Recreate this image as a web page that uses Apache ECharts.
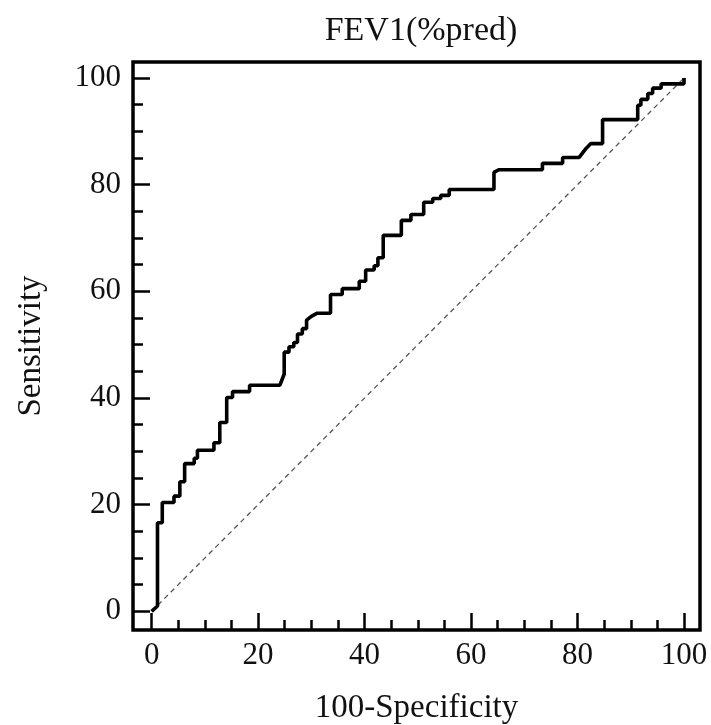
<!DOCTYPE html>
<html>
<head>
<meta charset="utf-8">
<script src="https://cdn.jsdelivr.net/npm/echarts@6/dist/echarts.min.js"></script>
<style>html,body{margin:0;padding:0;background:#fff;}#chart{width:711px;height:725px;}</style>
</head>
<body>
<div id="chart"></div>
<script>
const titleText = "FEV1(%pred)";
const xAxisName = "100-Specificity";
const yAxisName = "Sensitivity";
const tickValues = [0, 20, 40, 60, 80, 100];
const minorTickValues = [5, 10, 15, 25, 30, 35, 45, 50, 55, 65, 70, 75, 85, 90, 95];

// ROC curve vertices (100-Specificity, Sensitivity)
const rocX = [0, 1.1, 1.1, 2.0, 2.0, 4.2, 4.2, 5.3, 5.3, 6.2, 6.2, 8.0, 8.0, 8.6, 8.6, 11.7, 11.7, 12.8, 12.8, 14.1, 14.1, 15.2, 15.2, 18.4, 18.4, 24.1, 24.9, 24.9, 25.8, 25.8, 26.7, 26.7, 27.4, 27.4, 28.3, 28.3, 29.1, 29.1, 30.0, 31.1, 33.6, 33.6, 35.8, 35.8, 39.0, 39.0, 40.2, 40.2, 41.8, 41.8, 42.5, 42.5, 43.5, 43.5, 46.9, 46.9, 48.7, 48.7, 51.1, 51.1, 52.8, 52.8, 54.3, 54.3, 55.9, 55.9, 64.3, 64.3, 65.2, 73.4, 73.4, 77.2, 77.2, 80.3, 81.6, 82.5, 84.7, 84.7, 91.3, 91.3, 91.9, 91.9, 93.2, 93.2, 94.1, 94.1, 95.7, 95.7, 100, 100];
const rocY = [0, 1.0, 16.6, 16.6, 20.4, 20.4, 21.6, 21.6, 24.3, 24.3, 27.7, 27.7, 28.7, 28.7, 30.2, 30.2, 31.6, 31.6, 35.4, 35.4, 40.1, 40.1, 41.2, 41.2, 42.4, 42.4, 44.5, 48.6, 48.6, 49.6, 49.6, 50.4, 50.4, 52.0, 52.0, 53.0, 53.0, 54.6, 55.3, 55.9, 55.9, 59.4, 59.4, 60.5, 60.5, 61.9, 61.9, 64.0, 64.0, 64.8, 64.8, 66.3, 66.3, 70.5, 70.5, 73.3, 73.3, 74.4, 74.4, 76.7, 76.7, 77.4, 77.4, 78.0, 78.0, 79.1, 79.1, 82.3, 82.8, 82.8, 84.0, 84.0, 85.1, 85.1, 86.8, 87.7, 87.7, 92.2, 92.2, 94.9, 94.9, 96.0, 96.0, 97.1, 97.1, 98.1, 98.1, 98.9, 98.9, 100];

const diagX = [0, 100];
const diagY = [0, 100];

const rocData = rocX.map((x, i) => [x, rocY[i]]);
const diagData = diagX.map((x, i) => [x, diagY[i]]);

const font = "'Liberation Serif', 'DejaVu Serif', serif";
const textColor = '#111';
const tickFs = 31;
const nameFs = 33;

function axisBase(isMajor, labelMargin, opts) {
  return Object.assign({
    type: 'value', min: -3.5, max: 103,
    axisLine: { show: false, onZero: false },
    axisTick: { show: true, inside: true, length: isMajor ? 17 : 10,
      lineStyle: { color: '#000', width: 2.5 },
      customValues: isMajor ? tickValues : minorTickValues },
    axisLabel: { show: isMajor, fontFamily: font, fontSize: tickFs, color: textColor,
      margin: labelMargin, customValues: tickValues },
    splitLine: { show: false }
  }, opts);
}

const chart = echarts.init(document.getElementById('chart'));
chart.setOption({
  animation: false,
  backgroundColor: '#fff',
  title: {
    text: titleText, left: 416, top: 9, textAlign: 'center',
    textStyle: { fontFamily: font, fontSize: 34, fontWeight: 'normal', color: textColor }
  },
  grid: {
    left: 133, right: 11, top: 62, bottom: 95,
    containLabel: false, outerBoundsMode: 'none',
    show: true, borderColor: '#000', borderWidth: 3.5, backgroundColor: 'transparent'
  },
  xAxis: [
    axisBase(true, 10, {
      position: 'bottom',
      name: xAxisName, nameLocation: 'middle', nameGap: 62,
      nameTextStyle: { fontFamily: font, fontSize: nameFs, color: textColor }
    }),
    axisBase(false, 10, { position: 'bottom' })
  ],
  yAxis: [
    axisBase(true, 12, {
      position: 'left',
      name: yAxisName, nameLocation: 'middle', nameGap: 85,
      nameTextStyle: { fontFamily: font, fontSize: nameFs, color: textColor }
    }),
    axisBase(false, 12, { position: 'left' })
  ],
  series: [
    {
      type: 'line', data: diagData, symbol: 'none', silent: true,
      lineStyle: { color: '#555', width: 1.3, type: [5, 4] }, z: 2
    },
    {
      type: 'line', data: rocData, symbol: 'none',
      lineStyle: { color: '#000', width: 3.6 }, z: 3
    }
  ]
});
</script>
</body>
</html>
